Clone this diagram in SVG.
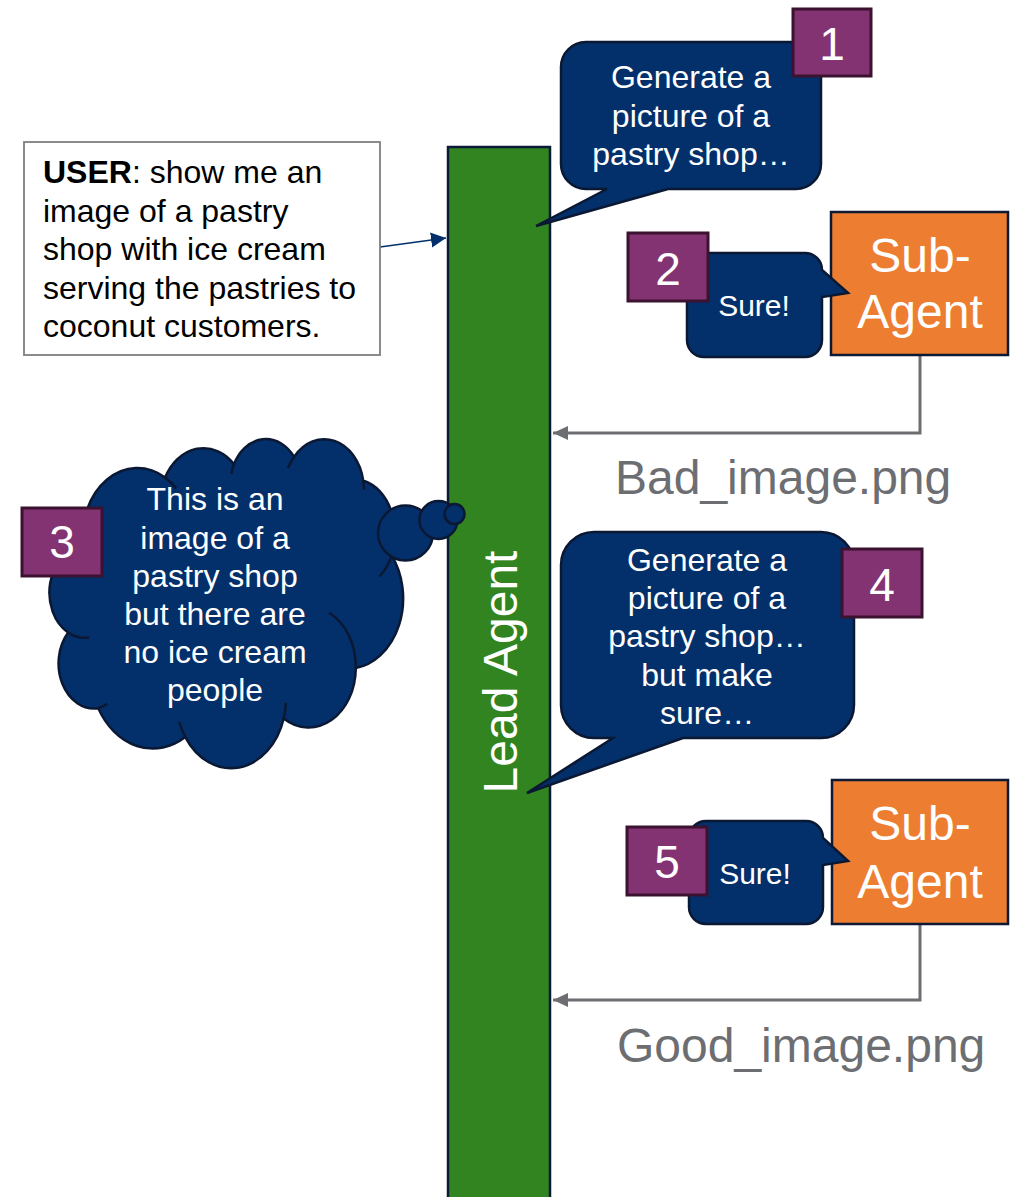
<svg xmlns="http://www.w3.org/2000/svg" width="1017" height="1197" viewBox="0 0 1017 1197">
<style>
text{font-family:"Liberation Sans",Arial,sans-serif}
.bubble{fill:#03306B;stroke:#0B1833;stroke-width:2.5}
.badge{fill:#833272;stroke:#3B1230;stroke-width:3}
.num{font-size:46px;fill:#fff;text-anchor:middle}
.wt{font-size:32px;fill:#fff;text-anchor:middle}
.sure{font-size:30px;fill:#fff;text-anchor:middle}
.sub{fill:#ED7D31;stroke:#0C1A35;stroke-width:2.5}
.subt{font-size:48px;fill:#fff;text-anchor:middle}
.conn{stroke:#6C6E72;stroke-width:3;fill:none}
.file{font-size:48px;fill:#6C6E72}
.inner{fill:none;stroke:#0B1833;stroke-width:2.5}
</style>
<defs>
<marker id="grayArrow" markerUnits="userSpaceOnUse" markerWidth="16" markerHeight="16" refX="15" refY="8" orient="auto">
<path d="M0,1 L15,8 L0,15 Z" fill="#6C6E72"/>
</marker>
<marker id="navyArrow" markerUnits="userSpaceOnUse" markerWidth="16" markerHeight="16" refX="15" refY="8" orient="auto">
<path d="M0,0.5 L15,8 L0,15.5 Z" fill="#03306B"/>
</marker>
</defs>

<g id="lead-agent">
<rect x="448" y="147" width="102" height="1062" fill="#31841F" stroke="#0B1A38" stroke-width="2.5"/>
<text transform="translate(517,672) rotate(-90)" font-size="48" fill="#fff" text-anchor="middle">Lead Agent</text>
</g>

<g id="connectors">
<line x1="380" y1="247" x2="446" y2="238" stroke="#03306B" stroke-width="1.5" marker-end="url(#navyArrow)"/>
<path class="conn" d="M920,355 V433 H553" marker-end="url(#grayArrow)"/>
<path class="conn" d="M920,924 V1000 H553" marker-end="url(#grayArrow)"/>
</g>

<g id="user-box">
<rect x="24" y="142" width="356" height="213" fill="#fff" stroke="#7F7F7F" stroke-width="1.8"/>
<text font-size="32" fill="#000">
<tspan x="43" y="183"><tspan font-weight="bold">USER</tspan>: show me an</tspan>
<tspan x="43" y="221.5">image of a pastry</tspan>
<tspan x="43" y="260">shop with ice cream</tspan>
<tspan x="43" y="298.5">serving the pastries to</tspan>
<tspan x="43" y="337">coconut customers.</tspan>
</text>
</g>

<g id="bubble-1">
<path class="bubble" d="M586,42 H796 A25,25 0 0 1 821,67 V164 A25,25 0 0 1 796,189 H668 L536,226 L607,189 H586 A25,25 0 0 1 561,164 V67 A25,25 0 0 1 586,42 Z"/>
<text class="wt"><tspan x="691" y="88">Generate a</tspan><tspan x="691" y="127">picture of a</tspan><tspan x="691" y="165">pastry shop…</tspan></text>
</g>
<g id="badge-1">
<rect class="badge" x="793" y="9" width="78" height="67"/>
<text class="num" x="832" y="60">1</text>
</g>

<g id="subagent-1">
<rect class="sub" x="831" y="212" width="177" height="143"/>
<text class="subt"><tspan x="920" y="272">Sub-</tspan><tspan x="920" y="328">Agent</tspan></text>
</g>
<g id="sure-1">
<path class="bubble" d="M704,253 H805 A17,17 0 0 1 822,270 L848,293 L822,297 V340 A17,17 0 0 1 805,357 H704 A17,17 0 0 1 687,340 V270 A17,17 0 0 1 704,253 Z"/>
<text class="sure" x="754" y="316">Sure!</text>
</g>
<g id="badge-2">
<rect class="badge" x="628" y="233" width="80" height="68"/>
<text class="num" x="668" y="285">2</text>
</g>

<g id="file-bad">
<text class="file" x="615" y="494">Bad_image.png</text>
</g>

<g id="thought-cloud">
<path class="bubble" d="M82.8,547.4 A55.02,69.99 0 0 1 165.1,477.6 A43.45,55.35 0 0 1 234,464.1 A35.57,45.28 0 0 1 294.1,456.9 A39.57,50.23 0 0 1 363.2,480.5 A43.45,55.39 0 0 1 391.7,555.7 A55.2,70.22 0 0 1 355.8,668 A47.14,59.91 0 0 1 283.7,718.4 A55.02,70.18 0 0 1 185.3,737.1 A62.9,80.3 0 0 1 98.3,708.2 A35.53,45.07 0 0 1 68.2,632.6 A35.4,45.28 0 0 1 82.8,547.4 Z"/>
<circle class="bubble" cx="405.5" cy="533" r="27.5"/>
<circle class="bubble" cx="438.5" cy="520" r="19"/>
<circle class="bubble" cx="454.5" cy="514" r="10"/>
<path class="inner" d="M89.2,637.4 A35.4,45.3 0 0 1 68.2,632.6 M107.4,703.8 A35.5,45.1 0 0 1 98.3,708.2 M185.3,737.1 A55,70.2 0 0 1 179.3,722 M285.9,702.7 A55,70.2 0 0 1 283.7,718.4 M329.1,612.8 A47.1,59.9 0 0 1 355.8,668 M391.7,555.7 A43.45,55.39 0 0 1 379.5,576.5 M363.2,480.5 A39.57,50.23 0 0 1 363.9,489.4 M287.9,468.1 A39.57,50.23 0 0 1 294.1,456.9 M231.4,473.9 A35.57,45.28 0 0 1 234,464.1 M165.1,477.6 A55.02,69.99 0 0 1 176.2,488.5 M84.6,558.3 A55.02,69.99 0 0 1 82.8,547.4"/>
<text class="wt"><tspan x="215" y="510">This is an</tspan><tspan x="215" y="548.5">image of a</tspan><tspan x="215" y="587">pastry shop</tspan><tspan x="215" y="625">but there are</tspan><tspan x="215" y="663">no ice cream</tspan><tspan x="215" y="701">people</tspan></text>
</g>
<g id="badge-3">
<rect class="badge" x="22" y="508" width="80" height="68"/>
<text class="num" x="62" y="558">3</text>
</g>

<g id="bubble-4">
<path class="bubble" d="M594,532 H821 A33,33 0 0 1 854,565 V705 A33,33 0 0 1 821,738 H683 L527,793 L613,738 H594 A33,33 0 0 1 561,705 V565 A33,33 0 0 1 594,532 Z"/>
<text class="wt"><tspan x="707" y="571">Generate a</tspan><tspan x="707" y="609">picture of a</tspan><tspan x="707" y="647">pastry shop…</tspan><tspan x="707" y="686">but make</tspan><tspan x="707" y="724">sure…</tspan></text>
</g>
<g id="badge-4">
<rect class="badge" x="842" y="549" width="80" height="68"/>
<text class="num" x="882" y="601">4</text>
</g>

<g id="subagent-2">
<rect class="sub" x="832" y="780" width="176" height="144"/>
<text class="subt"><tspan x="920" y="840">Sub-</tspan><tspan x="920" y="898">Agent</tspan></text>
</g>
<g id="sure-2">
<path class="bubble" d="M706,821 H806 A17,17 0 0 1 823,838 L848,861 L823,865 V907 A17,17 0 0 1 806,924 H706 A17,17 0 0 1 689,907 V838 A17,17 0 0 1 706,821 Z"/>
<text class="sure" x="755" y="884">Sure!</text>
</g>
<g id="badge-5">
<rect class="badge" x="627" y="827" width="80" height="68"/>
<text class="num" x="667" y="878">5</text>
</g>

<g id="file-good">
<text class="file" x="617" y="1062">Good_image.png</text>
</g>
</svg>
